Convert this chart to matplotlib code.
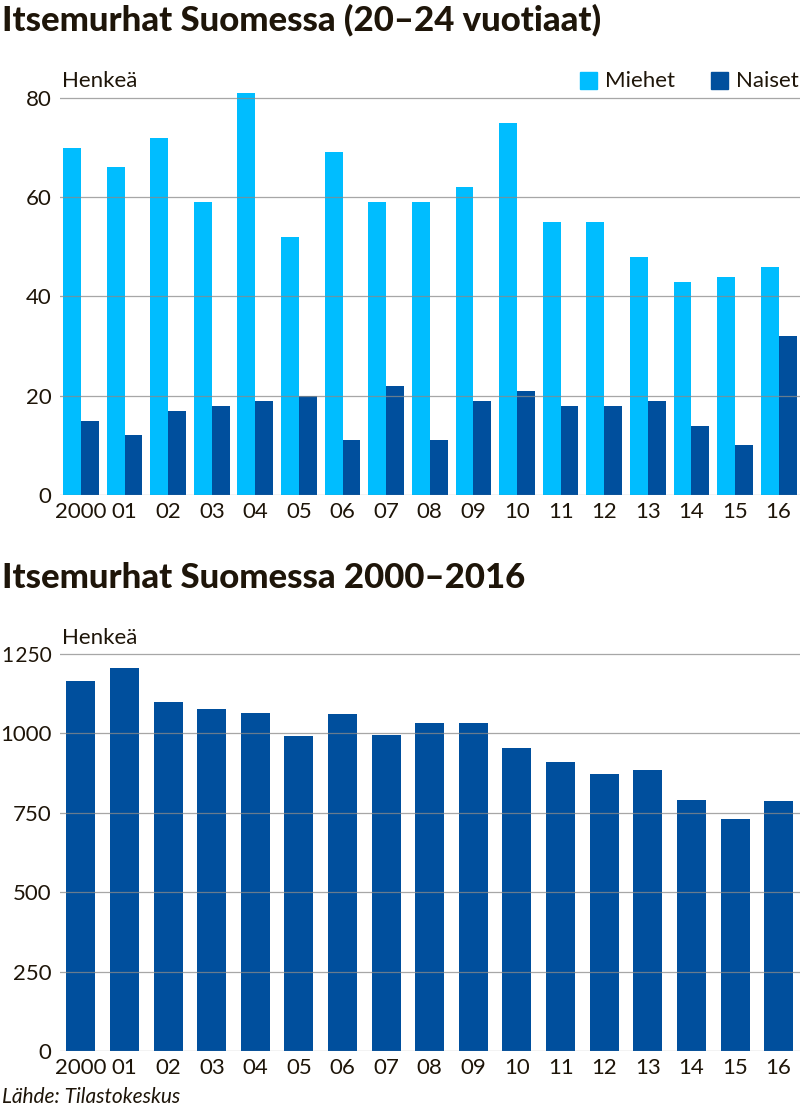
import matplotlib.pyplot as plt
import numpy as np

years = ['2000', '01', '02', '03', '04', '05', '06', '07', '08',
         '09', '10', '11', '12', '13', '14', '15', '16']
miehet = [70, 66, 72, 59, 81, 52, 69, 59, 59, 62, 75, 55, 55, 48, 43, 44, 46]
naiset = [15, 12, 17, 18, 19, 20, 11, 22, 11, 19, 21, 18, 18, 19, 14, 10, 32]
kaikki = [1165, 1205, 1097, 1075, 1063, 992, 1062, 996, 1034, 1034,
          953, 910, 873, 886, 789, 731, 787]

LIGHT = '#00bdff'
DARK = '#004f9d'
TXT = '#1e1509'
GRID = '#8a8a8a'

plt.rcParams['font.family'] = ['Lato', 'DejaVu Sans']

fig = plt.figure(figsize=(8, 11.1), dpi=100)
W, H = 800, 1110


def style_axes(ax, ticks, labels):
    for s in ax.spines.values():
        s.set_visible(False)
    ax.set_yticks(ticks)
    ax.set_yticklabels(labels)
    ax.tick_params(length=0, labelsize=16, labelcolor=TXT, pad=6)
    ax.tick_params(axis='x', pad=5)
    for t in ticks:
        ax.axhline(t, color=GRID, lw=0.9, alpha=0.75, zorder=3)
    ax.set_xticks(np.arange(len(years)))
    ax.set_xticklabels(years)
    ax.set_xlim(-0.48, len(years) - 0.51)


x = np.arange(len(years))

# top chart
ax1 = fig.add_axes([60 / W, 1 - 495 / H, 740 / W, (495 - 78) / H])
bw = 0.41
ax1.bar(x - bw / 2, miehet, bw, color=LIGHT, zorder=2, label='Miehet')
ax1.bar(x + bw / 2, naiset, bw, color=DARK, zorder=2, label='Naiset')
ax1.set_ylim(0, 84)
style_axes(ax1, [0, 20, 40, 60, 80], ['0', '20', '40', '60', '80'])

# bottom chart
ax2 = fig.add_axes([60 / W, 1 - 1051 / H, 740 / W, (1051 - 638) / H])
ax2.bar(x, kaikki, 0.665, color=DARK, zorder=2)
ax2.set_ylim(0, 1300)
style_axes(ax2, [0, 250, 500, 750, 1000, 1250],
           ['0', '250', '500', '750', '1000', '1\u200a250'])
ax2.get_yticklabels()[-1].set_fontsize(15)

# titles and labels
fig.text(2 / W, 1 - 20 / H, 'Itsemurhat Suomessa (20–24 vuotiaat)',
         fontsize=25, fontweight='black', color=TXT, va='center')
fig.text(2 / W, 1 - 578 / H, 'Itsemurhat Suomessa 2000–2016',
         fontsize=25, fontweight='black', color=TXT, va='center')
fig.text(62 / W, 1 - 81 / H, 'Henkeä', fontsize=16, color=TXT, va='center')
fig.text(62 / W, 1 - 638 / H, 'Henkeä', fontsize=16, color=TXT, va='center')
fig.text(2 / W, 1 - 1097 / H, 'Lähde: Tilastokeskus', fontsize=15,
         style='italic', color=TXT, va='center')

# legend
fig.patches.append(plt.Rectangle((580 / W, 1 - 89 / H), 17 / W, 17 / H,
                                 color=LIGHT, transform=fig.transFigure))
fig.text(605 / W, 1 - 81 / H, 'Miehet', fontsize=16, color=TXT, va='center')
fig.patches.append(plt.Rectangle((711 / W, 1 - 89 / H), 17 / W, 17 / H,
                                 color=DARK, transform=fig.transFigure))
fig.text(736 / W, 1 - 81 / H, 'Naiset', fontsize=16, color=TXT, va='center')

fig.savefig('out.png', dpi=100)
